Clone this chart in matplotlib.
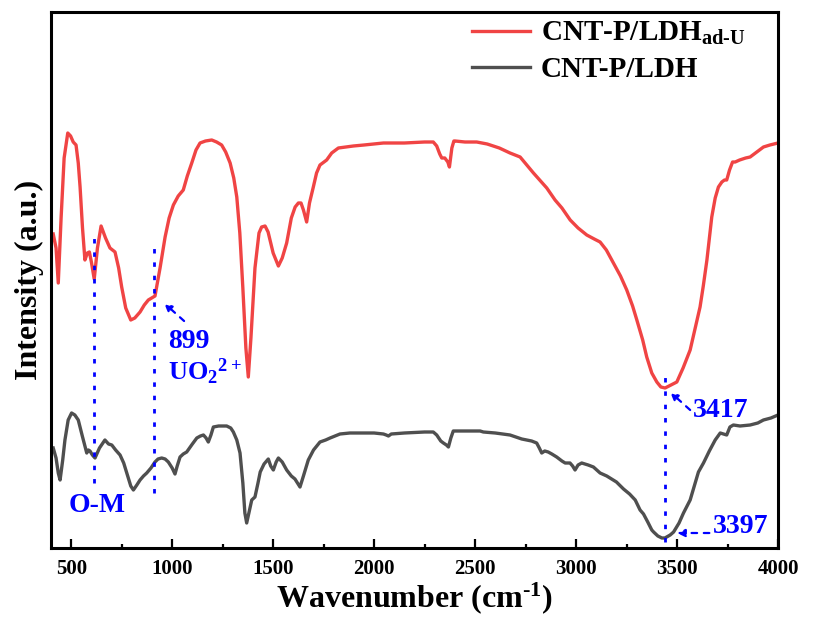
import matplotlib
matplotlib.use("Agg")
import matplotlib.pyplot as plt

plt.rcParams['font.family'] = ['Liberation Serif', 'DejaVu Serif']
plt.rcParams['font.weight'] = 'bold'
plt.rcParams['axes.labelweight'] = 'bold'
plt.rcParams['mathtext.fontset'] = 'custom'
plt.rcParams['mathtext.rm'] = 'Liberation Serif:bold'
plt.rcParams['mathtext.bf'] = 'Liberation Serif:bold'
plt.rcParams['mathtext.it'] = 'Liberation Serif:bold'
plt.rcParams['mathtext.default'] = 'rm'

# ---- data (wavenumber, intensity a.u.) ----
red_wn = [411, 425, 436, 450, 465, 483, 497, 510, 524, 535, 544, 556, 568, 580, 590, 600, 614,
          630, 648, 670, 692, 717, 735, 750, 770, 795, 815, 841, 862, 882, 915, 940, 965, 985,
          1006, 1030, 1055, 1075, 1097, 1118, 1138, 1165, 1196, 1220, 1245, 1265, 1287, 1305,
          1320, 1335, 1350, 1365, 1377, 1390, 1410, 1430, 1443, 1460, 1475, 1500, 1526, 1545,
          1567, 1590, 1609, 1625, 1638, 1650, 1666, 1680, 1699, 1715, 1732, 1765, 1790, 1823,
          1860, 1897, 1950, 2046, 2150, 2250, 2293, 2310, 2325, 2335, 2350, 2365, 2373, 2385,
          2395, 2401, 2450, 2508, 2560, 2620, 2673, 2723, 2789, 2855, 2896, 2930, 2971, 3010,
          3053, 3090, 3119, 3150, 3185, 3220, 3251, 3280, 3301, 3330, 3350, 3375, 3400, 3420,
          3441, 3470, 3499, 3530, 3565, 3590, 3614, 3630, 3648, 3660, 3672, 3689, 3705, 3722,
          3735, 3746, 3760, 3775, 3788, 3810, 3840, 3862, 3895, 3928, 3960, 4000]
red_int = [314, 300, 265, 330, 390, 415, 412, 406, 403, 385, 361, 320, 288, 295, 296, 286, 269,
           300, 322, 310, 300, 296, 280, 261, 240, 228, 230, 236, 243, 248, 252, 280, 311, 330,
           343, 352, 358, 372, 385, 398, 405, 407, 408, 406, 403, 396, 385, 370,
           351, 315, 260, 200, 171, 210, 280, 315, 321, 322, 316, 295, 282, 290,
           305, 330, 341, 345, 345, 338, 326, 345, 361, 375, 383, 388, 395, 400,
           401, 402, 403, 405, 405, 406, 406, 402, 394, 390, 390, 386, 381, 400,
           407, 407, 406, 406, 404, 400, 395, 391, 375, 360, 348, 340, 328, 320,
           313, 309, 306, 298, 285, 272, 258, 242, 228, 208, 191, 175, 166, 161,
           160, 163, 166, 180, 198, 220, 241, 262, 288, 310, 331, 350, 361, 366,
           368, 368, 378, 386, 386, 388, 390, 391, 396, 401, 403, 405]

gray_wn = [411, 425, 436, 445, 458, 469, 485, 502, 518, 535, 555, 577, 585, 593, 605, 618, 640,
           667, 685, 701, 720, 742, 760, 775, 795, 808, 825, 841, 858, 874, 895, 915, 930, 948,
           965, 981, 1000, 1014, 1025, 1039, 1055, 1072, 1100, 1122, 1140, 1155, 1168, 1179,
           1192, 1204, 1230, 1270, 1290, 1303, 1320, 1336, 1350, 1360, 1369, 1380, 1394, 1410,
           1425, 1436, 1455, 1476, 1488, 1501, 1515, 1526, 1545, 1567, 1590, 1608, 1633, 1650,
           1674, 1700, 1732, 1760, 1782, 1831, 1880, 1947, 2000, 2046, 2060, 2071, 2085, 2150,
           2250, 2293, 2310, 2330, 2343, 2358, 2368, 2380, 2392, 2401, 2525, 2541, 2600, 2673,
           2731, 2780, 2805, 2818, 2830, 2845, 2862, 2880, 2904, 2930, 2946, 2970, 2983, 2995,
           3010, 3028, 3060, 3086, 3119, 3152, 3200, 3235, 3265, 3293, 3317, 3334, 3355, 3375,
           3384, 3405, 3425, 3440, 3466, 3483, 3510, 3532, 3565, 3590, 3606, 3631, 3660, 3689,
           3714, 3730, 3746, 3762, 3779, 3812, 3862, 3900, 3928, 3965, 4000]
gray_int = [100, 90, 75, 68, 88, 108, 128, 135, 133, 128, 112, 95, 98, 97, 93, 90, 100,
            108, 104, 103, 98, 93, 85, 75, 62, 58, 63, 68, 72, 75, 80, 86, 89, 90,
            89, 86, 80, 74, 82, 91, 94, 96, 104, 110, 112, 113, 110, 106,
            113, 121, 122, 122, 120, 116, 108, 95, 65, 35, 25, 35, 48, 51,
            65, 76, 84, 89, 82, 78, 86, 90, 86, 78, 72, 69, 61, 72,
            88, 98, 106, 108, 110, 114, 115, 115, 115, 114, 113, 112, 114, 115,
            116, 116, 113, 107, 105, 103, 101, 110, 117, 117, 117, 116, 115, 113,
            109, 107, 105, 100, 95, 97, 96, 94, 91, 87, 85, 85, 82, 78,
            83, 85, 83, 81, 75, 72, 66, 59, 54, 48, 38, 34, 26, 18,
            16, 12, 10, 10, 13, 16, 25, 35, 48, 65, 76, 85, 97, 108,
            115, 114, 113, 121, 123, 122, 123, 125, 128, 130, 133]

labels = ['CNT-P/LDH$_{\\text{ad-U}}$', 'CNT-P/LDH']
xticks = [500, 1000, 1500, 2000, 2500, 3000, 3500, 4000]
mark_lines = [614, 912, 3440]

fig = plt.figure(figsize=(8.13, 6.28), dpi=100)
ax = fig.add_axes([51/813, 1-548/628, (778-51)/813, (548-12)/628])

ax.plot(red_wn, red_int, color='#F04444', lw=2.4, label=labels[0], solid_joinstyle='round')
ax.plot(gray_wn, gray_int, color='#4F4F4F', lw=2.4, label=labels[1], solid_joinstyle='round')

ax.set_xlim(400, 4000)
ax.set_ylim(0, 536)

dot = (0, (1.6, 3.2))
blue = '#0000FF'
ax.plot([mark_lines[0]]*2, [65, 310], color=blue, lw=2.0, ls=dot)
ax.plot([mark_lines[1]]*2, [55, 300], color=blue, lw=2.0, ls=dot)
ax.plot([mark_lines[2]]*2, [6, 171], color=blue, lw=2.0, ls=dot)

arrow = dict(arrowstyle='-|>,head_length=0.45,head_width=0.22', color=blue, lw=1.6,
             linestyle=(0, (2.5, 3)), shrinkA=0, shrinkB=0)
ax.annotate('', xy=(960, 245), xytext=(1059, 227), arrowprops=arrow)
ax.annotate('', xy=(3466, 156), xytext=(3565, 138), arrowprops=arrow)
ax.annotate('', xy=(3500, 15), xytext=(3660, 15), arrowprops=arrow)

fs = 20
ax.text(979, 200, '899', color=blue, fontsize=fs, va='baseline', ha='left')
ax.text(979, 168, 'UO$_2$$^{2+}$', color=blue, fontsize=19, va='baseline', ha='left')
ax.text(3580, 131, '3417', color=blue, fontsize=fs, va='baseline', ha='left')
ax.text(3679, 15, '3397', color=blue, fontsize=fs, va='baseline', ha='left')
ax.text(489, 36, 'O-M', color=blue, fontsize=fs, va='baseline', ha='left')

ax.set_xticks(xticks)
ax.set_xticks([750 + 500*i for i in range(7)], minor=True)
ax.set_yticks([])
ax.tick_params(axis='x', which='major', direction='in', length=6.5, width=1.6,
               labelsize=15, pad=8)
ax.tick_params(axis='x', which='minor', direction='in', length=3.2, width=1.6)
for lab in ax.get_xticklabels():
    lab.set_fontweight('bold')
for sp in ax.spines.values():
    sp.set_linewidth(2.2)

ax.set_xlabel('Wavenumber (cm$^{\\text{-1}}$)', fontsize=23, labelpad=1, fontweight='bold')
ax.set_ylabel('Intensity (a.u.)', fontsize=23, labelpad=5, fontweight='bold')

ax.legend(loc='upper left', bbox_to_anchor=(472/813, 1-20/628), bbox_transform=fig.transFigure,
          frameon=False, fontsize=21, handlelength=2.0, handletextpad=0.35,
          labelspacing=0.3, borderpad=0, borderaxespad=0)

fig.savefig('out.png', dpi=100)
